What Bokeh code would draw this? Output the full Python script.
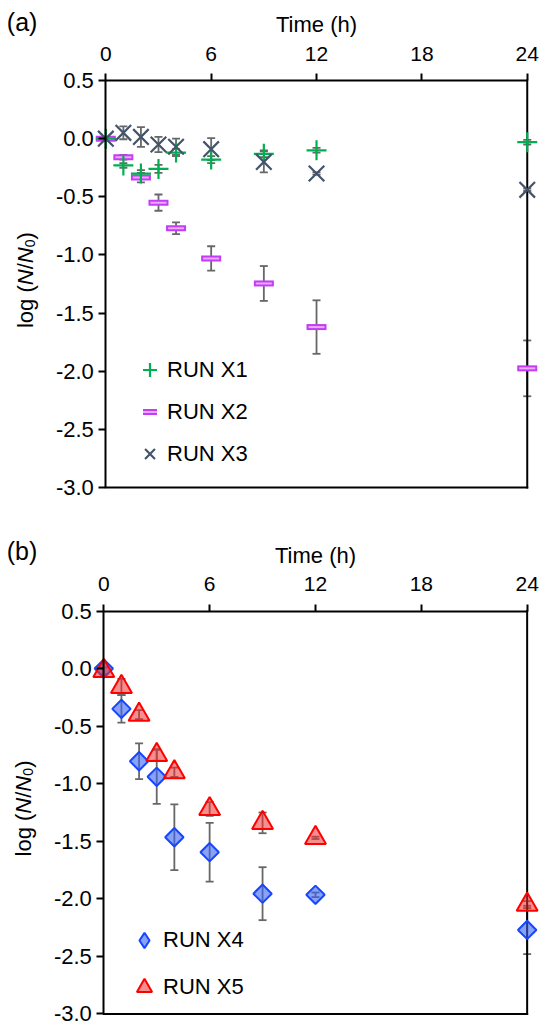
import numpy as np
from bokeh.plotting import figure
from bokeh.models import (ColumnDataSource, Range1d, FixedTicker, PrintfTickFormatter,
                          Whisker, TeeHead, Legend, LegendItem, Label)
from bokeh.layouts import column
from bokeh.embed import file_html
from bokeh.resources import INLINE

# ---------------- data ----------------
time_h = [0, 1, 2, 3, 4, 6, 9, 12, 24]

run_x1 = [0.00, -0.23, -0.30, -0.26, -0.12, -0.18, -0.13, -0.10, -0.03]
run_x1_err = [0.0, 0.02, 0.03, 0.035, 0.03, 0.03, 0.03, 0.02, 0.02]

run_x2 = [0.00, -0.16, -0.335, -0.55, -0.77, -1.03, -1.245, -1.62, -1.975]
run_x2_err = [0.0, 0.02, 0.04, 0.07, 0.05, 0.105, 0.15, 0.23, 0.24]

run_x3 = [0.00, 0.05, 0.015, -0.05, -0.07, -0.09, -0.20, -0.30, -0.44]
run_x3_err = [0.0, 0.055, 0.085, 0.065, 0.07, 0.095, 0.09, 0.01, 0.01]

run_x4 = [0.00, -0.35, -0.805, -0.94, -1.465, -1.595, -1.955, -1.965, -2.27]
run_x4_err = [0.05, 0.12, 0.155, 0.235, 0.285, 0.255, 0.23, 0.02, 0.21]

run_x5 = [-0.02, -0.16, -0.40, -0.75, -0.90, -1.22, -1.34, -1.47, -2.05]
run_x5_err = [0.03, 0.07, 0.04, 0.05, 0.04, 0.06, 0.09, 0.01, 0.03]

x_ticks = [0, 6, 12, 18, 24]
y_ticks = [0.5, 0.0, -0.5, -1.0, -1.5, -2.0, -2.5, -3.0]
x_title = "Time (h)"
series_names = ["RUN X1", "RUN X2", "RUN X3", "RUN X4", "RUN X5"]
panel_tags = ["(a)", "(b)"]

FONT = "Liberation Sans"
ERR_COLOR = "#676767"
W = 539


def make_fig(height, xr, yr):
    p = figure(width=W, height=height, title=None,
               x_range=Range1d(*xr), y_range=Range1d(*yr),
               x_axis_location="above", output_backend="svg", toolbar_location=None,
               min_border_left=0, min_border_right=0, min_border_top=0, min_border_bottom=0)
    p.outline_line_color = None
    p.xgrid.visible = False
    p.ygrid.visible = False

    xa = p.xaxis[0]
    xa.fixed_location = y_ticks[0]
    xa.ticker = FixedTicker(ticks=x_ticks)
    xa.bounds = (x_ticks[0], x_ticks[-1])
    xa.axis_label = x_title
    xa.axis_label_text_font = FONT
    xa.axis_label_text_font_size = "22px"
    xa.axis_label_text_font_style = "normal"
    xa.axis_label_text_color = "black"
    xa.axis_label_standoff = 7
    xa.major_label_text_font = FONT
    xa.major_label_text_font_size = "21px"
    xa.major_label_text_color = "black"
    xa.major_label_standoff = 13

    ya = p.yaxis[0]
    ya.fixed_location = x_ticks[0]
    ya.ticker = FixedTicker(ticks=y_ticks)
    ya.formatter = PrintfTickFormatter(format="%.1f")
    ya.bounds = (y_ticks[-1], y_ticks[0])
    ya.major_label_text_font = FONT
    ya.major_label_text_font_size = "22px"
    ya.major_label_text_color = "black"
    ya.major_label_standoff = 5

    for ax in (xa, ya):
        ax.axis_line_width = 2
        ax.axis_line_color = "black"
        ax.major_tick_line_width = 2
        ax.major_tick_line_color = "black"
        ax.major_tick_out = 7
        ax.major_tick_in = 0
        ax.minor_tick_out = 0
        ax.minor_tick_in = 0
        ax.minor_tick_line_color = None

    # right and bottom borders of the box
    p.segment(x0=[x_ticks[0], x_ticks[-1]], y0=[y_ticks[-1], y_ticks[-1]],
              x1=[x_ticks[-1], x_ticks[-1]], y1=[y_ticks[-1], y_ticks[0]],
              line_color="black", line_width=2, line_cap="square")
    return p


def add_err(p, vals, errs):
    t = [ti for ti, e in zip(time_h, errs) if e > 0]
    up = [v + e for v, e in zip(vals, errs) if e > 0]
    lo = [v - e for v, e in zip(vals, errs) if e > 0]
    src = ColumnDataSource(dict(t=t, up=up, lo=lo))
    w = Whisker(source=src, base="t", upper="up", lower="lo", dimension="height",
                line_color=ERR_COLOR, line_width=1.8,
                upper_head=TeeHead(size=8, line_color=ERR_COLOR, line_width=1.8),
                lower_head=TeeHead(size=8, line_color=ERR_COLOR, line_width=1.8))
    p.add_layout(w)


def add_ylabel(p, x_off, size=22):
    # log (N/N0) with italic N and subscript 0, rotated
    em = size
    parts = [("log (", "normal", size, 0.0, 1.945 * em),
             ("N", "italic", size, 0.0, 0.722 * em),
             ("/", "normal", size, 0.0, 0.278 * em),
             ("N", "italic", size, 0.0, 0.722 * em),
             ("0", "normal", round(size * 0.65), 4.0, 0.556 * size * 0.65),
             (")", "normal", size, 0.0, 0.333 * em)]
    total = sum(w for *_, w in parts)
    mid = (y_ticks[0] + y_ticks[-1]) / 2
    cum = -total / 2 + 4
    for txt, style, fs, dx, w in parts:
        p.add_layout(Label(x=x_ticks[0], y=mid, x_units="data", y_units="data",
                           x_offset=x_off + dx, y_offset=cum, text=txt, angle=np.pi / 2,
                           text_font=FONT, text_font_size=f"{fs}px", text_font_style=style,
                           text_color="black", text_align="left", text_baseline="alphabetic"))
        cum += w


def add_tag(p, tag, x_off, y_off):
    p.add_layout(Label(x=x_ticks[0], y=y_ticks[0], x_units="data", y_units="data",
                       x_offset=x_off, y_offset=y_off, text=tag,
                       text_font=FONT, text_font_size="25px", text_color="black",
                       text_align="left", text_baseline="alphabetic"))


# ---------------- panel (a) ----------------
pa = make_fig(538, (-5.997, 24.698), (-3.438, 1.188))
sa1 = ColumnDataSource(dict(t=time_h, y=run_x1))
sa2 = ColumnDataSource(dict(t=time_h, y=run_x2))
sa3 = ColumnDataSource(dict(t=time_h, y=run_x3))
add_err(pa, run_x2, run_x2_err)
add_err(pa, run_x1, run_x1_err)
add_err(pa, run_x3, run_x3_err)
r2a = pa.scatter("t", "y", source=sa2, marker="dash", size=20, line_width=6, line_color="#C33CF6")
r2b = pa.scatter("t", "y", source=sa2, marker="dash", size=16, line_width=2, line_color="#EAA9FF")
r1 = pa.scatter("t", "y", source=sa1, marker="cross", size=20, line_width=2.2, line_color="#00B050")
r3 = pa.scatter("t", "y", source=sa3, marker="x", size=22, line_width=2.2, line_color="#44546A")
leg_a = Legend(items=[LegendItem(label=series_names[0], renderers=[r1]),
                      LegendItem(label=series_names[1], renderers=[r2a, r2b]),
                      LegendItem(label=series_names[2], renderers=[r3])],
               location=(132, 67), glyph_width=35, glyph_height=35, label_standoff=0,
               spacing=7, padding=0, margin=0, border_line_color=None,
               background_fill_alpha=0, label_text_font=FONT, label_text_font_size="22px",
               label_text_color="black")
pa.add_layout(leg_a)
add_ylabel(pa, -80)
add_tag(pa, panel_tags[0], -99, 59)

# ---------------- panel (b) ----------------
pb = make_fig(487, (-5.856, 24.70), (-3.0999, 1.1297))
sb4 = ColumnDataSource(dict(t=time_h, y=run_x4))
sb5 = ColumnDataSource(dict(t=time_h, y=run_x5))
add_err(pb, run_x4, run_x4_err)
add_err(pb, run_x5, run_x5_err)
# legend-only diamond (drawn with zero size in the plot)
r4_leg = pb.scatter("t", "y", source=sb4, marker="diamond", size=0, line_width=2,
                    line_color="#1447FF", fill_color="#3A62F0", fill_alpha=0.6)
r4 = pb.scatter("t", "y", source=sb4, marker="square", angle=np.pi / 4, size=13,
                line_width=2, line_color="#1447FF", fill_color="#3A62F0", fill_alpha=0.6)
r5 = pb.scatter("t", "y", source=sb5, marker="triangle", size=21,
                line_width=2, line_color="#FF0000", fill_color="#F03030", fill_alpha=0.55)
leg_b = Legend(items=[LegendItem(label=series_names[3], renderers=[r4_leg]),
                      LegendItem(label=series_names[4], renderers=[r5])],
               location=(125, 19), glyph_width=38, glyph_height=38, label_standoff=0,
               spacing=9, padding=0, margin=0, border_line_color=None,
               background_fill_alpha=0, label_text_font=FONT, label_text_font_size="22px",
               label_text_color="black")
pb.add_layout(leg_b)
add_ylabel(pb, -80)
add_tag(pb, panel_tags[1], -97, 60)

layout = column(pa, pb)
open("out.html", "w").write(file_html(layout, INLINE))
